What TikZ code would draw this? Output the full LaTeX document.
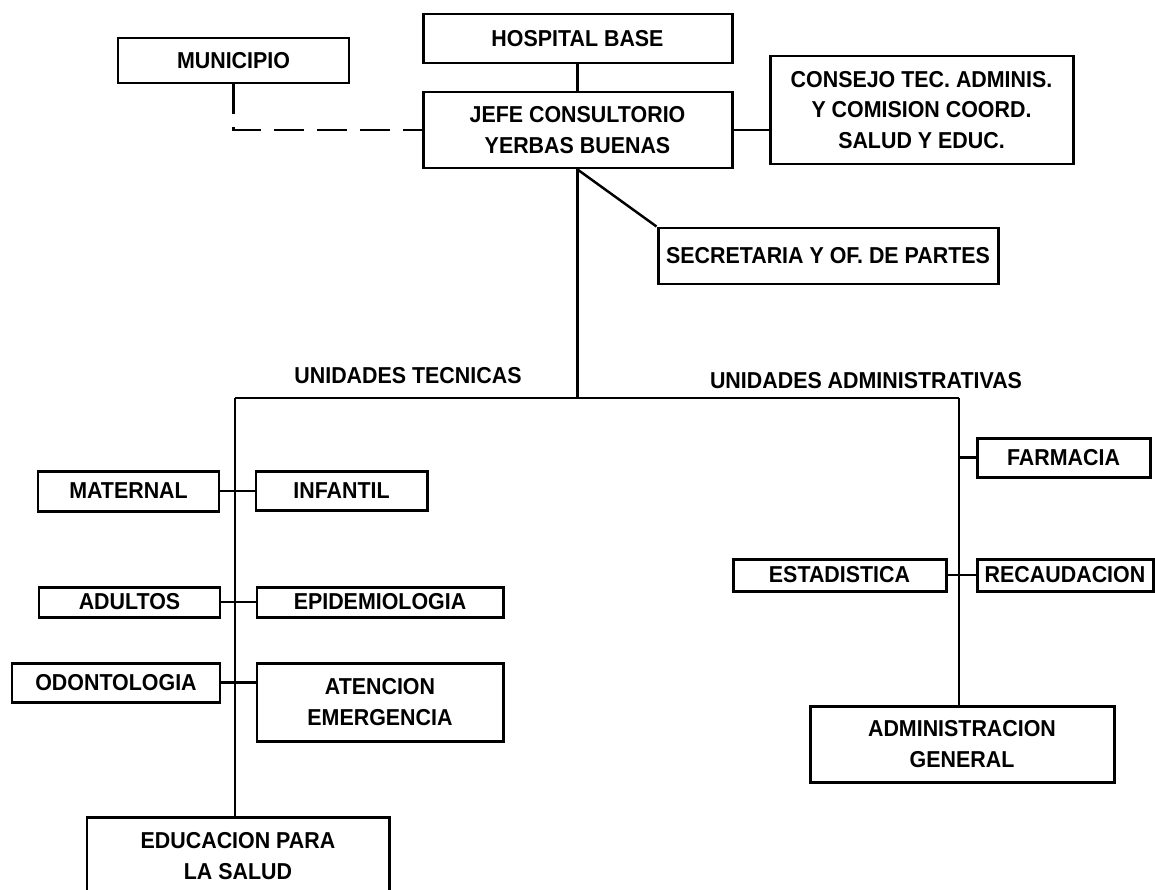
\documentclass[tikz,border=0pt]{standalone}
\usepackage{fontspec}
\setmainfont{Liberation Sans}[FakeStretch=0.93]
\usetikzlibrary{positioning}
\newcommand\letra{\bfseries\fontsize{13.1}{17.6}\selectfont}
\tikzset{
  caja/.style={draw,line width=1.7pt,align=center,inner sep=2pt,font=\letra},
  tam/.style 2 args={minimum width=#1*0.02cm,minimum height=#2*0.02cm},
  linea/.style={line width=1.4pt},
  trazos/.style={line width=1.4pt,dash pattern=on 0.6cm off 0.26cm},
  rotulo/.style={anchor=base,font=\letra},
}

\begin{document}
\begin{tikzpicture}[x=0.02cm,y=-0.02cm]
  \clip (0,0) rectangle (1155,889);
  % direccion
  \node[caja,tam={309}{49}] (hospital) at (577.5,38.5) {HOSPITAL BASE};
  \node[caja,tam={231}{45}] (municipio) at (233.5,60.5) {MUNICIPIO};
  \node[caja,tam={309}{76}] (jefe) at (577.5,130) {JEFE CONSULTORIO\\ YERBAS BUENAS};
  \node[caja,tam={303}{108}] (consejo) at (921.5,110)
    {CONSEJO TEC. ADMINIS.\\ Y COMISION COORD.\\ SALUD Y EDUC.};
  \node[caja,tam={340}{56}] (secretaria) at (828,256) {SECRETARIA Y OF. DE PARTES};
  \draw[linea] (hospital) -- (jefe);
  \draw[trazos] (municipio.south) |- (jefe.west);
  \draw[linea] (jefe.east) -- (jefe.east -| consejo.west);
  \draw[linea] (jefe.south) -- (secretaria.north west);
  % ramas
  \coordinate (ramal) at (577.5,398);
  \coordinate (tec) at (235,398);
  \coordinate (adm) at (959,398);
  \draw[linea] (jefe.south) -- (ramal);
  \draw[linea] (tec) -- (adm);
  \node[rotulo] (rtec) at (408,383) {UNIDADES TECNICAS};
  \node[rotulo] (radm) at (866,388) {UNIDADES ADMINISTRATIVAS};
  % unidades tecnicas
  \node[caja,tam={181}{40}] (maternal) at (128.5,491) {MATERNAL};
  \node[caja,tam={171}{39}] (infantil) at (341.5,491) {INFANTIL};
  \node[caja,tam={181}{30}] (adultos) at (129.5,602) {ADULTOS};
  \node[caja,tam={246}{30}] (epidemio) at (380,602) {EPIDEMIOLOGIA};
  \node[caja,tam={208}{39}] (odonto) at (116,682.5) {ODONTOLOGIA};
  \node[caja,tam={246}{78}] (atencion) at (380,702) {ATENCION\\ EMERGENCIA};
  \node[caja,tam={302}{79}] (educacion) at (238,856.5) {EDUCACION PARA\\ LA SALUD};
  \draw[linea] (tec) -- (tec |- educacion.north);
  \draw[linea] (maternal.east) -- (infantil.west);
  \draw[linea] (adultos.east) -- (epidemio.west);
  \draw[linea] (odonto.east) -- (odonto.east -| atencion.west);
  % unidades administrativas
  \node[caja,tam={173}{39}] (farmacia) at (1063.5,457.5) {FARMACIA};
  \node[caja,tam={213}{32}] (estadistica) at (839.5,575) {ESTADISTICA};
  \node[caja,tam={176}{32}] (recaudacion) at (1065,575) {RECAUDACION};
  \node[caja,tam={304}{76}] (admin) at (962,744) {ADMINISTRACION\\ GENERAL};
  \draw[linea] (adm) -- (adm |- admin.north);
  \draw[linea] (farmacia.west) -- (farmacia.west -| adm);
  \draw[linea] (estadistica.east) -- (recaudacion.west);
\end{tikzpicture}
\end{document}
